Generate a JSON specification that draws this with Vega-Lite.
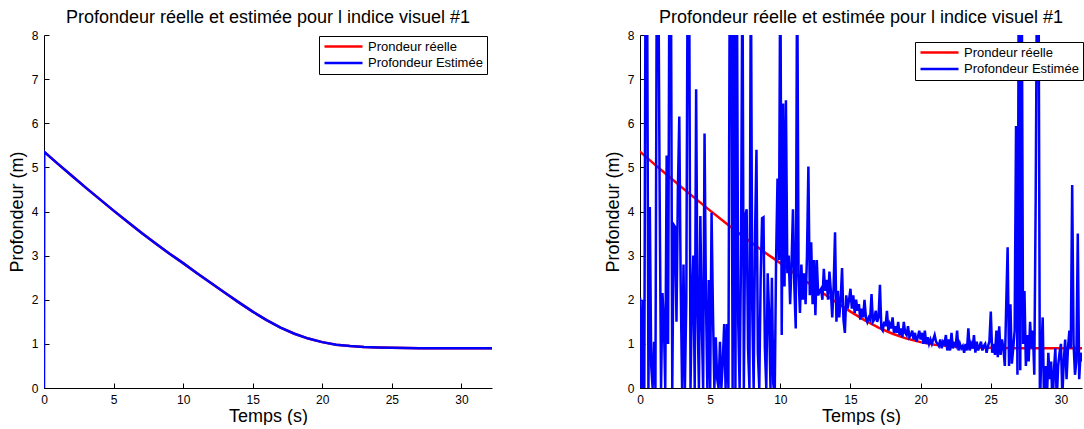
{
"$schema": "https://vega.github.io/schema/vega-lite/v6.json",
"padding": {"left": 8, "top": 9, "right": 0, "bottom": 0},
"spacing": 112,
"config": {
 "font": "Liberation Sans",
 "view": {"stroke": null},
 "axis": {"domainColor": "#000", "domainWidth": 1, "tickColor": "#000", "tickSize": -5, "labelColor": "#000", "labelFontSize": 12, "titleFontSize": 18, "titleFontWeight": "normal", "titleColor": "#000", "grid": false, "labelPadding": 11, "labelFlush": false, "labelOverlap": false},
 "title": {"fontSize": 18, "fontWeight": "normal", "color": "#000", "offset": 2},
 "legend": {"orient": "none", "fillColor": "white", "strokeColor": "black", "strokeWidth": 1, "padding": 4, "labelFontSize": 13, "labelColor": "#000", "symbolType": "stroke", "symbolStrokeWidth": 2.5, "symbolSize": 1444, "rowPadding": 2.5, "clipHeight": 13, "cornerRadius": 0, "labelOffset": 4}
},
"datasets": {
 "L": [
  {"t":0,"r":5.35,"e":0},{"t":0.02,"r":5.35,"e":5.35},{"t":1,"r":5.08,"e":5.08},{"t":2,"r":4.81,"e":4.81},{"t":3,"r":4.54,"e":4.54},{"t":4,"r":4.28,"e":4.28},{"t":5,"r":4.02,"e":4.02},{"t":6,"r":3.77,"e":3.77},{"t":7,"r":3.52,"e":3.52},{"t":8,"r":3.28,"e":3.28},{"t":9,"r":3.05,"e":3.05},{"t":10,"r":2.83,"e":2.83},{"t":11,"r":2.6,"e":2.6},{"t":12,"r":2.38,"e":2.38},{"t":13,"r":2.16,"e":2.16},{"t":14,"r":1.94,"e":1.94},{"t":15,"r":1.73,"e":1.73},{"t":16,"r":1.54,"e":1.54},{"t":17,"r":1.37,"e":1.37},{"t":18,"r":1.23,"e":1.23},{"t":19,"r":1.12,"e":1.12},{"t":20,"r":1.04,"e":1.04},{"t":21,"r":0.98,"e":0.98},{"t":22,"r":0.95,"e":0.95},{"t":23,"r":0.93,"e":0.93},{"t":24,"r":0.92,"e":0.92},{"t":25,"r":0.91,"e":0.91},{"t":26,"r":0.905,"e":0.905},{"t":27,"r":0.9,"e":0.9},{"t":28,"r":0.9,"e":0.9},{"t":29,"r":0.9,"e":0.9},{"t":30,"r":0.9,"e":0.9},{"t":31,"r":0.9,"e":0.9},{"t":32.2,"r":0.9,"e":0.9}
 ],
 "R": [
  {"t":0,"e":2.05},{"t":0.1,"e":0},{"t":0.2,"e":2.0},{"t":0.3,"e":-0.5},{"t":0.4,"e":10},{"t":0.5,"e":10},{"t":0.6,"e":0},{"t":0.7,"e":4.1},{"t":0.8,"e":0.5},{"t":0.9,"e":0},
  {"t":1.0,"e":1.05},{"t":1.1,"e":0},{"t":1.2,"e":10},{"t":1.3,"e":10},{"t":1.4,"e":4.45},{"t":1.5,"e":0},{"t":1.6,"e":2.15},{"t":1.7,"e":1.5},{"t":1.8,"e":0},{"t":1.9,"e":5.27},
  {"t":2.0,"e":1.0},{"t":2.1,"e":10},{"t":2.2,"e":10},{"t":2.3,"e":0},{"t":2.4,"e":3.7},{"t":2.5,"e":3.65},{"t":2.6,"e":1.5},{"t":2.7,"e":4.5},{"t":2.8,"e":6.15},{"t":2.9,"e":2.35},
  {"t":3.0,"e":0},{"t":3.1,"e":2.8},{"t":3.2,"e":0},{"t":3.3,"e":2.0},{"t":3.4,"e":10},{"t":3.5,"e":10},{"t":3.6,"e":0},{"t":3.7,"e":2.0},{"t":3.8,"e":3.0},{"t":3.9,"e":0},
  {"t":4.0,"e":6.77},{"t":4.1,"e":1.7},{"t":4.2,"e":0},{"t":4.3,"e":3.9},{"t":4.4,"e":1.5},{"t":4.5,"e":0},{"t":4.6,"e":5.77},{"t":4.7,"e":2.0},{"t":4.8,"e":0},{"t":4.9,"e":2.45},
  {"t":5.0,"e":0},{"t":5.1,"e":3.97},{"t":5.2,"e":1.7},{"t":5.3,"e":0},{"t":5.4,"e":1.15},{"t":5.5,"e":0.2},{"t":5.6,"e":0},{"t":5.7,"e":1.05},{"t":5.8,"e":0},{"t":5.9,"e":0.6},
  {"t":6.0,"e":1.45},{"t":6.1,"e":0},{"t":6.2,"e":1.45},{"t":6.3,"e":0},{"t":6.4,"e":10},{"t":6.5,"e":10},{"t":6.6,"e":0},{"t":6.7,"e":10},{"t":6.8,"e":0},{"t":6.9,"e":10},
  {"t":7.0,"e":1.5},{"t":7.1,"e":0},{"t":7.2,"e":3.0},{"t":7.3,"e":10},{"t":7.4,"e":0},{"t":7.5,"e":3.9},{"t":7.6,"e":4.05},{"t":7.7,"e":0.9},{"t":7.8,"e":0},{"t":7.9,"e":10},
  {"t":8.0,"e":1.8},{"t":8.1,"e":0},{"t":8.2,"e":3.5},{"t":8.3,"e":5.4},{"t":8.4,"e":0.8},{"t":8.5,"e":0},{"t":8.6,"e":2.5},{"t":8.7,"e":3.85},{"t":8.8,"e":3.87},{"t":8.9,"e":0.9},
  {"t":9.0,"e":0},{"t":9.1,"e":2.6},{"t":9.2,"e":1.7},{"t":9.3,"e":0},{"t":9.4,"e":2.5},{"t":9.5,"e":0.1},{"t":9.6,"e":-0.2},{"t":9.7,"e":2.95},{"t":9.8,"e":4.75},{"t":9.9,"e":2.9},
  {"t":10.0,"e":10},{"t":10.1,"e":1.2},{"t":10.2,"e":6.45},{"t":10.3,"e":2.3},{"t":10.4,"e":6.52},{"t":10.5,"e":2.6},{"t":10.6,"e":3.0},{"t":10.7,"e":1.9},{"t":10.8,"e":2.8},{"t":10.9,"e":4.05},
  {"t":11.0,"e":2.3},{"t":11.1,"e":1.35},{"t":11.2,"e":10},{"t":11.3,"e":2.5},{"t":11.4,"e":1.7},{"t":11.5,"e":2.8},{"t":11.6,"e":2.0},{"t":11.7,"e":2.6},{"t":11.8,"e":1.9},{"t":11.9,"e":3.0},
  {"t":12.0,"e":5.02},{"t":12.1,"e":2.1},{"t":12.2,"e":3.3},{"t":12.3,"e":1.9},{"t":12.4,"e":2.9},{"t":12.5,"e":1.65},{"t":12.6,"e":2.9},{"t":12.7,"e":2.1},{"t":12.8,"e":2.2},{"t":12.9,"e":2.25},
  {"t":13.0,"e":2.0},{"t":13.1,"e":2.7},{"t":13.2,"e":2.2},{"t":13.3,"e":2.45},{"t":13.4,"e":2.0},{"t":13.5,"e":2.64},{"t":13.6,"e":2.2},{"t":13.7,"e":1.6},{"t":13.8,"e":2.3},{"t":13.9,"e":3.53},
  {"t":14.0,"e":1.5},{"t":14.1,"e":2.2},{"t":14.2,"e":1.6},{"t":14.3,"e":2.0},{"t":14.4,"e":2.72},{"t":14.5,"e":1.55},{"t":14.6,"e":1.25},{"t":14.7,"e":2.1},{"t":14.8,"e":1.8},{"t":14.9,"e":2.0},
  {"t":15.0,"e":2.25},{"t":15.1,"e":1.8},{"t":15.2,"e":2.1},{"t":15.3,"e":1.7},{"t":15.4,"e":2.0},{"t":15.5,"e":1.75},{"t":15.6,"e":1.9},{"t":15.7,"e":1.55},{"t":15.8,"e":1.8},{"t":15.9,"e":1.6},
  {"t":16.0,"e":2.0},{"t":16.1,"e":1.6},{"t":16.2,"e":1.5},{"t":16.3,"e":1.6},{"t":16.4,"e":1.55},{"t":16.5,"e":2.13},{"t":16.6,"e":1.5},{"t":16.7,"e":1.55},{"t":16.8,"e":1.75},{"t":16.9,"e":1.5},
  {"t":17.0,"e":1.6},{"t":17.1,"e":2.34},{"t":17.2,"e":1.35},{"t":17.3,"e":1.3},{"t":17.4,"e":1.5},{"t":17.5,"e":1.4},{"t":17.6,"e":1.75},{"t":17.7,"e":1.3},{"t":17.8,"e":1.45},{"t":17.9,"e":1.35},
  {"t":18.0,"e":1.6},{"t":18.1,"e":1.25},{"t":18.2,"e":1.4},{"t":18.3,"e":1.25},{"t":18.4,"e":1.5},{"t":18.5,"e":1.2},{"t":18.6,"e":1.35},{"t":18.7,"e":1.15},{"t":18.8,"e":1.5},{"t":18.9,"e":1.25},
  {"t":19.0,"e":1.2},{"t":19.1,"e":1.4},{"t":19.2,"e":1.15},{"t":19.3,"e":1.2},{"t":19.4,"e":1.3},{"t":19.5,"e":1.1},{"t":19.6,"e":1.25},{"t":19.7,"e":1.05},{"t":19.8,"e":1.15},{"t":19.9,"e":1.3},
  {"t":20.0,"e":1.1},{"t":20.1,"e":1.25},{"t":20.2,"e":1.0},{"t":20.3,"e":1.3},{"t":20.4,"e":1.0},{"t":20.5,"e":1.15},{"t":20.6,"e":1.0},{"t":20.7,"e":1.1},{"t":20.8,"e":1.0},{"t":20.9,"e":1.1},
  {"t":21.0,"e":1.2},{"t":21.1,"e":1.05},{"t":21.2,"e":1.0},{"t":21.3,"e":0.95},{"t":21.4,"e":1.1},{"t":21.5,"e":0.9},{"t":21.6,"e":1.05},{"t":21.7,"e":1.0},{"t":21.8,"e":1.2},{"t":21.9,"e":0.85},
  {"t":22.0,"e":1.1},{"t":22.1,"e":0.85},{"t":22.2,"e":1.25},{"t":22.3,"e":0.9},{"t":22.4,"e":1.0},{"t":22.5,"e":0.95},{"t":22.6,"e":1.3},{"t":22.7,"e":0.85},{"t":22.8,"e":1.0},{"t":22.9,"e":0.9},
  {"t":23.0,"e":0.95},{"t":23.1,"e":0.8},{"t":23.2,"e":1.0},{"t":23.3,"e":0.85},{"t":23.4,"e":1.35},{"t":23.5,"e":0.85},{"t":23.6,"e":1.0},{"t":23.7,"e":0.9},{"t":23.8,"e":1.2},{"t":23.9,"e":0.8},
  {"t":24.0,"e":1.05},{"t":24.1,"e":0.85},{"t":24.2,"e":0.95},{"t":24.3,"e":1.05},{"t":24.4,"e":0.85},{"t":24.5,"e":0.95},{"t":24.6,"e":1.0},{"t":24.7,"e":0.8},{"t":24.8,"e":0.95},{"t":24.9,"e":1.05},
  {"t":25.0,"e":1.73},{"t":25.1,"e":0.8},{"t":25.2,"e":1.0},{"t":25.3,"e":0.75},{"t":25.4,"e":1.3},{"t":25.5,"e":0.7},{"t":25.6,"e":1.4},{"t":25.7,"e":0.75},{"t":25.8,"e":1.1},{"t":25.9,"e":0.9},
  {"t":26.0,"e":0.5},{"t":26.1,"e":1.9},{"t":26.2,"e":3.19},{"t":26.3,"e":0.5},{"t":26.4,"e":1.9},{"t":26.5,"e":0.55},{"t":26.6,"e":0.9},{"t":26.7,"e":1.3},{"t":26.8,"e":5.94},{"t":26.9,"e":0.3},
  {"t":27.0,"e":10},{"t":27.1,"e":0.4},{"t":27.2,"e":10},{"t":27.3,"e":1.0},{"t":27.4,"e":2.2},{"t":27.5,"e":0.5},{"t":27.6,"e":1.2},{"t":27.7,"e":0.6},{"t":27.8,"e":1.5},{"t":27.9,"e":0.9},
  {"t":28.0,"e":1.3},{"t":28.1,"e":0.3},{"t":28.2,"e":4.31},{"t":28.3,"e":10},{"t":28.4,"e":10},{"t":28.5,"e":-0.5},{"t":28.6,"e":0.8},{"t":28.7,"e":1.6},{"t":28.8,"e":-0.5},{"t":28.9,"e":0.5},
  {"t":29.0,"e":-0.3},{"t":29.1,"e":0.8},{"t":29.2,"e":0.2},{"t":29.3,"e":0.6},{"t":29.4,"e":-0.5},{"t":29.5,"e":0.4},{"t":29.6,"e":0.9},{"t":29.7,"e":-0.3},{"t":29.8,"e":0.5},{"t":29.9,"e":0.8},
  {"t":30.0,"e":1.0},{"t":30.1,"e":-0.2},{"t":30.2,"e":0.6},{"t":30.3,"e":1.1},{"t":30.4,"e":0.2},{"t":30.5,"e":0.9},{"t":30.6,"e":1.3},{"t":30.7,"e":0.9},{"t":30.8,"e":4.6},{"t":30.9,"e":1.0},
  {"t":31.0,"e":0.3},{"t":31.1,"e":0.6},{"t":31.2,"e":3.5},{"t":31.3,"e":0.2},{"t":31.4,"e":0.8},{"t":31.5,"e":0.6}
 ]
},
"resolve": {"scale": {"x": "independent", "y": "independent", "color": "independent"}, "legend": {"color": "independent"}},
"hconcat": [
 {
  "width": 448, "height": 353,
  "title": "Profondeur réelle et estimée pour l indice visuel #1",
  "data": {"name": "L"},
  "layer": [
   {"mark": {"type": "line", "strokeWidth": 2.5, "clip": true},
    "encoding": {
     "x": {"field": "t", "type": "quantitative", "scale": {"domain": [0, 32.2], "nice": false, "zero": false}, "axis": {"title": "Temps (s)", "values": [0,5,10,15,20,25,30], "titlePadding": 2}},
     "y": {"field": "r", "type": "quantitative", "scale": {"domain": [0, 8], "nice": false}, "axis": {"title": "Profondeur (m)", "values": [0,1,2,3,4,5,6,7,8], "titlePadding": 5}},
     "color": {"datum": "Prondeur réelle", "type": "nominal", "scale": {"domain": ["Prondeur réelle", "Profondeur Estimée"], "range": ["#ff0000", "#0000ff"]}, "legend": {"title": null, "legendX": 275, "legendY": 1}}
    }},
   {"mark": {"type": "line", "strokeWidth": 2.5, "clip": true},
    "encoding": {
     "x": {"field": "t", "type": "quantitative"},
     "y": {"field": "e", "type": "quantitative"},
     "color": {"datum": "Profondeur Estimée", "type": "nominal"}
    }}
  ]
 },
 {
  "width": 442, "height": 353,
  "title": "Profondeur réelle et estimée pour l indice visuel #1",
  "layer": [
   {"data": {"name": "L"},
    "mark": {"type": "line", "strokeWidth": 2.5, "clip": true},
    "encoding": {
     "x": {"field": "t", "type": "quantitative", "scale": {"domain": [0, 31.5], "nice": false, "zero": false}, "axis": {"title": "Temps (s)", "values": [0,5,10,15,20,25,30], "titlePadding": 2}},
     "y": {"field": "r", "type": "quantitative", "scale": {"domain": [0, 8], "nice": false}, "axis": {"title": "Profondeur (m)", "values": [0,1,2,3,4,5,6,7,8], "titlePadding": 5}},
     "color": {"datum": "Prondeur réelle", "type": "nominal", "scale": {"domain": ["Prondeur réelle", "Profondeur Estimée"], "range": ["#ff0000", "#0000ff"]}, "legend": {"title": null, "legendX": 275, "legendY": 7}}
    }},
   {"data": {"name": "R"},
    "mark": {"type": "line", "strokeWidth": 2.5, "clip": true},
    "encoding": {
     "x": {"field": "t", "type": "quantitative"},
     "y": {"field": "e", "type": "quantitative"},
     "color": {"datum": "Profondeur Estimée", "type": "nominal"}
    }}
  ]
 }
]
}
